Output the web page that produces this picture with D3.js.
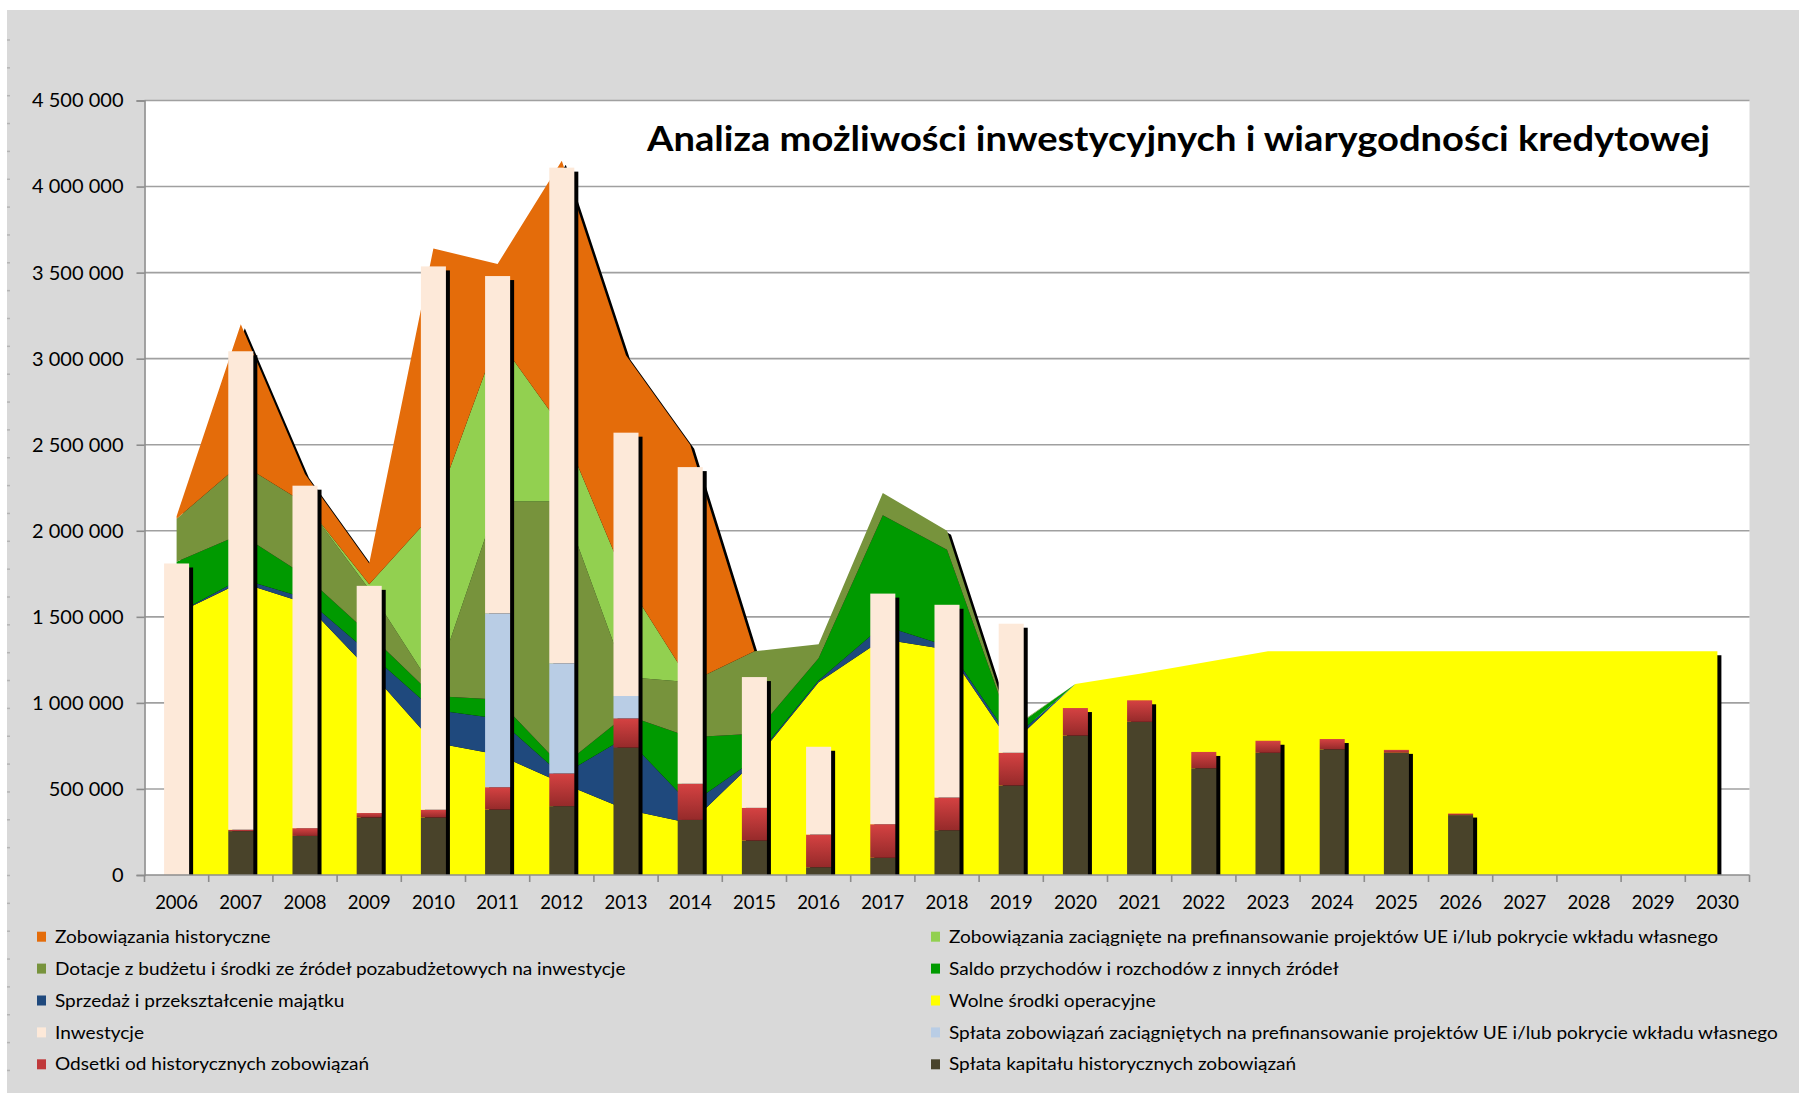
<!DOCTYPE html>
<html>
<head>
<meta charset="utf-8">
<script src="https://cdn.jsdelivr.net/npm/d3@7"></script>
<style>
  body { margin: 0; background: #ffffff; }
  svg { display: block; }
  text { font-family: Lato, "Open Sans", "Noto Sans", sans-serif; }
</style>
</head>
<body>
<svg id="chart" width="1799" height="1093"></svg>
<script>
// ---------------- DATA ----------------
const years = ["2006","2007","2008","2009","2010","2011","2012","2013","2014","2015","2016","2017","2018",
               "2019","2020","2021","2022","2023","2024","2025","2026","2027","2028","2029","2030"];
const yTicks = [0, 500000, 1000000, 1500000, 2000000, 2500000, 3000000, 3500000, 4000000, 4500000];

// stacked areas (bottom -> top)
const wolneSrodki  = [1520000,1700000,1580000,1190000,770000,700000,535000,380000,300000,660000,1120000,1370000,1310000,
                      760000,1110000,1170000,1235000,1300000,1300000,1300000,1300000,1300000,1300000,1300000,1300000];
const sprzedaz     = [0,20000,30000,100000,190000,210000,45000,420000,110000,10000,10000,80000,20000,
                      25000,0,0,0,0,0,0,0,0,0,0,0];
const saldo        = [300000,260000,130000,110000,80000,110000,50000,130000,390000,150000,130000,640000,560000,
                      60000,0,0,0,0,0,0,0,0,0,0,0];
const dotacje      = [250000,410000,420000,260000,40000,1150000,1540000,220000,320000,480000,80000,130000,110000,
                      5000,0,0,0,0,0,0,0,0,0,0,0];
const prefinans    = [0,0,0,30000,1020000,950000,430000,560000,0,0,0,0,0,
                      0,0,0,0,0,0,0,0,0,0,0,0];
const historyczne  = [15000,810000,170000,120000,1540000,430000,1550000,1310000,1380000,0,0,0,0,
                      0,0,0,0,0,0,0,0,0,0,0,0];

// stacked columns (bottom -> top)
const splataKapitalu = [0,255000,227000,334000,334000,380000,400000,740000,320000,200000,45000,100000,260000,
                        520000,810000,890000,620000,710000,730000,710000,348000,0,0,0,0];
const odsetki        = [0,8000,45000,26000,45000,130000,190000,170000,210000,190000,190000,195000,190000,
                        190000,160000,125000,95000,70000,60000,17000,9000,0,0,0,0];
const splataPrefin   = [0,0,0,0,0,1010000,640000,130000,0,0,0,0,0,
                        0,0,0,0,0,0,0,0,0,0,0,0];
const inwestycje     = [1810000,2780000,1990000,1320000,3157000,1960000,2880000,1530000,1840000,760000,510000,1340000,1120000,
                        750000,0,0,0,0,0,0,0,0,0,0,0];

const chartTitle = "Analiza możliwości inwestycyjnych i wiarygodności kredytowej";
const names = {
  hist: "Zobowiązania historyczne",
  prefin: "Zobowiązania zaciągnięte na prefinansowanie projektów UE i/lub pokrycie wkładu własnego",
  dotacje: "Dotacje z budżetu i środki ze źródeł pozabudżetowych na inwestycje",
  saldo: "Saldo przychodów i rozchodów z innych źródeł",
  sprzedaz: "Sprzedaż i przekształcenie majątku",
  wolne: "Wolne środki operacyjne",
  inwest: "Inwestycje",
  splataPref: "Spłata zobowiązań zaciągniętych na prefinansowanie projektów UE i/lub pokrycie wkładu własnego",
  odsetki: "Odsetki od historycznych zobowiązań",
  kapital: "Spłata kapitału historycznych zobowiązań"
};
const legendLeft  = ["hist", "dotacje", "sprzedaz", "inwest", "odsetki"];
const legendRight = ["prefin", "saldo", "wolne", "splataPref", "kapital"];

// ---------------- STYLE ----------------
const colors = {
  hist: "#e46c0a", prefin: "#92d050", dotacje: "#77933c", saldo: "#009a00",
  sprzedaz: "#1f497d", wolne: "#ffff00", inwest: "#fde9d9", splataPref: "#b9cde5",
  odsetki: "url(#redGrad)", kapital: "#49432a"
};
const legendColors = Object.assign({}, colors, { odsetki: "#c0393b" });

const W = 1799, H = 1093;
const P = { left: 144.5, right: 1749.5, top: 100.5, bottom: 875 };

const svg = d3.select("#chart");
const defs = svg.append("defs");
const rg = defs.append("linearGradient").attr("id", "redGrad").attr("x1", 0).attr("y1", 0).attr("x2", 0).attr("y2", 1);
rg.append("stop").attr("offset", "0%").attr("stop-color", "#d54242");
rg.append("stop").attr("offset", "100%").attr("stop-color", "#952a2a");
defs.append("clipPath").attr("id", "plotClip").append("rect")
  .attr("x", P.left).attr("y", P.top - 10).attr("width", P.right - P.left).attr("height", P.bottom - P.top + 10);
const blur = defs.append("filter").attr("id", "soft").attr("x", "-5%").attr("y", "-5%").attr("width", "110%").attr("height", "110%");
blur.append("feGaussianBlur").attr("stdDeviation", 0.6);

// background
svg.append("rect").attr("width", W).attr("height", H).attr("fill", "#ffffff");
svg.append("rect").attr("x", 7).attr("y", 10).attr("width", W - 7).attr("height", H - 10).attr("fill", "#d9d9d9");
for (let yy = 40; yy < H; yy += 27.85) {
  svg.append("line").attr("x1", 7).attr("x2", 10).attr("y1", yy).attr("y2", yy)
    .attr("stroke", "#b4b4b4").attr("stroke-width", 1.5);
}
svg.append("rect").attr("x", P.left).attr("y", P.top).attr("width", P.right - P.left).attr("height", P.bottom - P.top)
  .attr("fill", "#ffffff");

// scales
const x = d3.scaleBand().domain(years).range([P.left, P.right]).paddingInner(0.61).paddingOuter(0.305);
const cx = yr => x(yr) + x.bandwidth() / 2;
const y = d3.scaleLinear().domain([0, 4500000]).range([P.bottom, P.top]);

// gridlines
svg.append("g").selectAll("line").data(yTicks.filter(v => v > 0)).join("line")
  .attr("x1", P.left).attr("x2", P.right).attr("y1", d => y(d)).attr("y2", d => y(d))
  .attr("stroke", "#a0a0a0").attr("stroke-width", 1.6);

// table
const rows = years.map((yr, i) => ({
  year: yr, wolne: wolneSrodki[i], sprzedaz: sprzedaz[i], saldo: saldo[i], dotacje: dotacje[i],
  prefin: prefinans[i], hist: historyczne[i],
  kapital: splataKapitalu[i], odsetki: odsetki[i], splataPref: splataPrefin[i], inwest: inwestycje[i]
}));

const areaKeys = ["wolne", "sprzedaz", "saldo", "dotacje", "prefin", "hist"];
const barKeys = ["kapital", "odsetki", "splataPref", "inwest"];
const areaStack = d3.stack().keys(areaKeys)(rows);
const barStack = d3.stack().keys(barKeys)(rows);

const gPlot = svg.append("g").attr("clip-path", "url(#plotClip)");

// area shadow
const topLayer = areaStack[areaStack.length - 1];
const shadowArea = d3.area().x(d => cx(d.data.year)).y0(y(0)).y1(d => y(d[1]));
gPlot.append("path").datum(topLayer).attr("d", shadowArea).attr("fill", "#000")
  .attr("transform", "translate(4,4)").attr("filter", "url(#soft)");

// areas
const area = d3.area().x(d => cx(d.data.year)).y0(d => y(d[0])).y1(d => y(d[1]));
gPlot.selectAll("path.layer").data(areaStack).join("path").attr("class", "layer")
  .attr("d", area).attr("fill", d => colors[d.key]);

// bar shadows
const totals = rows.map(r => barKeys.reduce((s, k) => s + r[k], 0));
gPlot.append("g").selectAll("rect").data(rows.filter((r, i) => totals[i] > 0)).join("rect")
  .attr("x", d => x(d.year) + 4)
  .attr("y", d => y(totals[years.indexOf(d.year)]) + 4)
  .attr("width", x.bandwidth())
  .attr("height", d => y(0) - y(totals[years.indexOf(d.year)]))
  .attr("fill", "#000").attr("filter", "url(#soft)");

// bars
barStack.forEach(s => {
  gPlot.append("g").selectAll("rect").data(s.filter(d => d[1] - d[0] > 0)).join("rect")
    .attr("x", d => x(d.data.year))
    .attr("y", d => y(d[1]))
    .attr("width", x.bandwidth())
    .attr("height", d => y(d[0]) - y(d[1]))
    .attr("fill", colors[s.key]);
});

// axes
const fmt = d3.formatLocale({ decimal: ",", thousands: " ", grouping: [3], currency: ["", ""] }).format(",d");
const axL = svg.append("g").attr("transform", `translate(${P.left},0)`)
  .call(d3.axisLeft(y).tickValues(yTicks).tickSize(8).tickPadding(13).tickFormat(fmt));
axL.select(".domain").attr("stroke", "#8c8c8c").attr("stroke-width", 1.6);
axL.selectAll(".tick line").attr("stroke", "#8c8c8c").attr("stroke-width", 1.6);
axL.selectAll(".tick text").attr("font-size", 20).attr("fill", "#000").attr("font-family", "Lato, sans-serif");

svg.append("line").attr("x1", P.left).attr("x2", P.right).attr("y1", P.bottom).attr("y2", P.bottom)
  .attr("stroke", "#8c8c8c").attr("stroke-width", 1.6);
const bounds = d3.range(years.length + 1).map(i => P.left + i * x.step());
svg.append("g").selectAll("line").data(bounds).join("line")
  .attr("x1", d => d).attr("x2", d => d).attr("y1", P.bottom).attr("y2", P.bottom + 7)
  .attr("stroke", "#8c8c8c").attr("stroke-width", 1.6);
svg.append("g").selectAll("text").data(years).join("text")
  .attr("x", d => cx(d)).attr("y", P.bottom + 34).attr("text-anchor", "middle")
  .attr("font-size", 18.5).attr("fill", "#000").text(d => d);

// title
svg.append("text").attr("x", 647).attr("y", 151).attr("font-size", 35).attr("font-weight", 700)
  .attr("fill", "#000").attr("textLength", 1063).attr("lengthAdjust", "spacingAndGlyphs").text(chartTitle);

// legend
const legRow0 = 936.7, legStep = 31.9, legStretch = 1.12;
function drawLegend(keys, mx) {
  keys.forEach((k, i) => {
    const cy = legRow0 + i * legStep;
    svg.append("rect").attr("x", mx).attr("y", cy - 5).attr("width", 9).attr("height", 10).attr("fill", legendColors[k]);
    const t = svg.append("text").attr("x", mx + 18).attr("y", cy).attr("dy", "0.36em").attr("font-size", 17)
      .attr("fill", "#000").text(names[k]);
    const len = t.node().getComputedTextLength();
    t.attr("textLength", len * legStretch).attr("lengthAdjust", "spacingAndGlyphs");
  });
}
drawLegend(legendLeft, 37);
drawLegend(legendRight, 931);
</script>
</body>
</html>
